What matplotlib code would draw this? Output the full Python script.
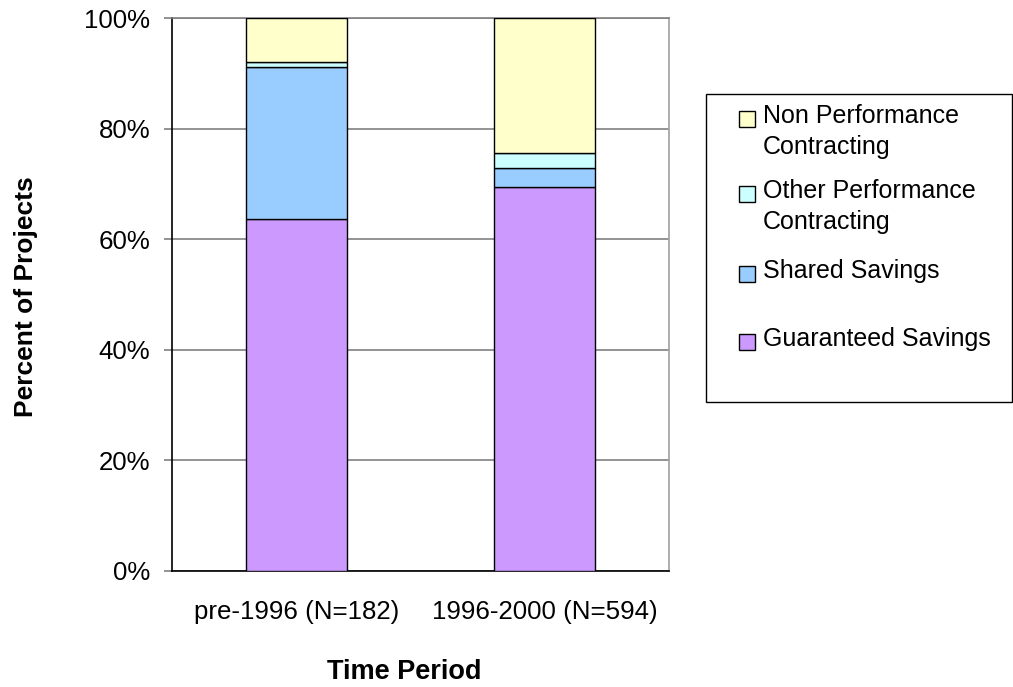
import matplotlib
matplotlib.use("Agg")
import matplotlib.pyplot as plt
from matplotlib.patches import Rectangle
import numpy as np

plt.rcParams['font.family'] = ['Liberation Sans', 'DejaVu Sans']

periods = ["pre-1996 (N=182)", "1996-2000 (N=594)"]
series_names = ["Guaranteed Savings", "Shared Savings",
                "Other Performance\nContracting", "Non Performance\nContracting"]
guaranteed = [63.6, 69.4]
shared = [27.5, 3.4]
other = [1.0, 2.7]
non_perf = [7.9, 24.5]
colors = ["#CC99FF", "#99CCFF", "#CCFFFF", "#FFFFCC"]
y_ticks = [0, 20, 40, 60, 80, 100]
y_tick_labels = ["0%", "20%", "40%", "60%", "80%", "100%"]

FS = 18.6
W, H = 1013, 687
fig = plt.figure(figsize=(W / 100, H / 100), dpi=100)
ax = fig.add_axes([172 / W, 1 - 571 / H, (669 - 172) / W, (571 - 18) / H])

x = np.arange(len(periods))
bottom = np.zeros(len(periods))
for vals, col in zip([guaranteed, shared, other, non_perf], colors):
    ax.bar(x, vals, width=0.405, bottom=bottom, color=col,
           edgecolor="black", linewidth=1.0, zorder=3)
    bottom += np.array(vals)

ax.set_xlim(-0.5, 1.5)
ax.set_ylim(0, 100)
ax.set_yticks(y_ticks)
ax.set_yticklabels(y_tick_labels, fontsize=FS)
ax.set_xticks(x)
ax.set_xticklabels(periods, fontsize=FS)
ax.tick_params(axis="x", length=0, pad=21)
ax.tick_params(axis="y", length=6, width=1.2, color="#808080",
               direction="out", pad=9.5)
ax.yaxis.grid(True, color="#808080", linewidth=1.2, zorder=0)
ax.set_axisbelow(True)

ax.spines["left"].set_color("black")
ax.spines["bottom"].set_color("black")
ax.spines["top"].set_color("#808080")
ax.spines["right"].set_color("#a0a0a0")
for s in ax.spines.values():
    s.set_linewidth(1.2)

fig.text(404 / W, 1 - 672 / H, "Time Period", fontsize=19.5, fontweight="bold",
         ha="center", va="center")
fig.text(26 / W, 1 - 297 / H, "Percent of Projects", fontsize=19,
         fontweight="bold", rotation=90, ha="center", va="center")

# Legend box on the right
fig.patches.append(Rectangle((706 / W, 1 - 402 / H), (1012 - 706) / W, (402 - 94) / H,
                             transform=fig.transFigure, facecolor="white",
                             edgecolor="black", linewidth=1.0))
legend_rows = [(3, 117), (2, 192), (1, 272), (0, 340)]
for idx, ypix in legend_rows:
    fig.patches.append(Rectangle((739 / W, 1 - (ypix + 10) / H), 16 / W, 16 / H,
                                 transform=fig.transFigure, facecolor=colors[idx],
                                 edgecolor="black", linewidth=1.0))
    fig.text(763 / W, 1 - (ypix - 13) / H, series_names[idx], fontsize=18,
             ha="left", va="top", linespacing=1.38)

fig.savefig("out.png", dpi=100)
